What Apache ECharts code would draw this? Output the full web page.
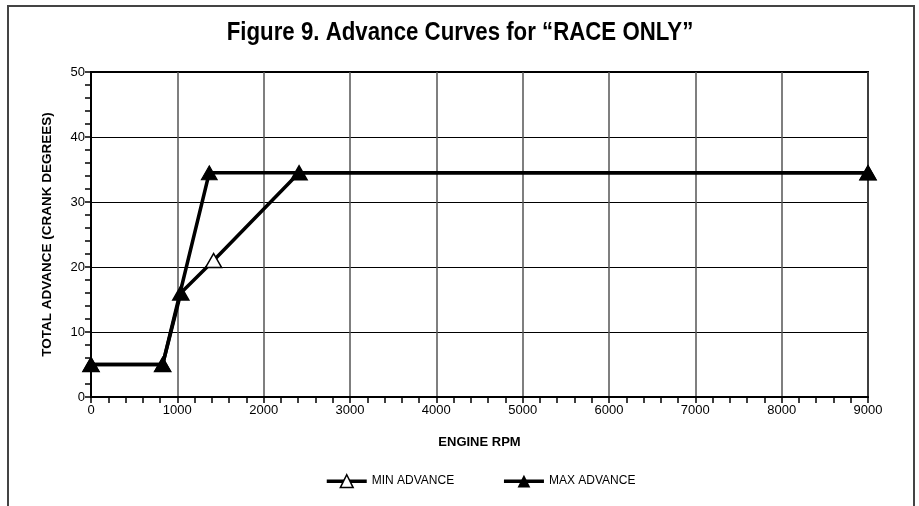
<!DOCTYPE html>
<html>
<head>
<meta charset="utf-8">
<script src="https://cdn.jsdelivr.net/npm/echarts@6/dist/echarts.min.js"></script>
<style>
  html, body { margin: 0; padding: 0; background: #fff; }
  #main { width: 919px; height: 506px; }
</style>
</head>
<body>
<div id="main"></div>
<script>
// engine rpm / total advance
const minRpm = [0, 830, 1040, 1420, 2410, 9000]
const minAdv = [5, 5, 16, 21, 34.5, 34.5]
const minOpen = [false, false, false, true, false, false] // only the 1420 point is drawn hollow
const maxRpm = [0, 830, 1370, 9000]
const maxAdv = [5, 5, 34.5, 34.5]

const xTicks = [0, 1000, 2000, 3000, 4000, 5000, 6000, 7000, 8000, 9000]
const yTicks = [0, 10, 20, 30, 40, 50]

const titleText = 'Figure 9. Advance Curves for “RACE ONLY”'
const font = 'Liberation Sans, Arial, sans-serif'

const minData = minRpm.map(function(x, i) {
  return {
    value: [x, minAdv[i]],
    itemStyle: { color: minOpen[i] ? '#fff' : '#000', borderColor: '#000', borderWidth: 1.5 }
  }
})
const maxData = maxRpm.map(function(x, i) { return [x, maxAdv[i]] })

const chart = echarts.init(document.getElementById('main'))
chart.setOption({
  animation: false,
  backgroundColor: '#fff',
  graphic: [
    {
      // frame round the figure, open at the bottom
      type: 'polyline',
      shape: { points: [[8, 506], [8, 6], [914, 6], [914, 506]] },
      style: { stroke: '#444', lineWidth: 2, fill: null }
    },
    {
      // title, squeezed a bit like the narrow face of the original
      type: 'text',
      x: 460,
      y: 33,
      scaleX: 0.89,
      style: {
        text: titleText,
        font: 'bold 25px ' + font,
        fill: '#000',
        textAlign: 'center',
        textVerticalAlign: 'middle'
      }
    }
  ],
  legend: {
    left: 320,
    top: 469,
    itemWidth: 40,
    itemHeight: 16,
    itemGap: 48,
    textStyle: { fontFamily: font, fontSize: 12, color: '#000' },
    lineStyle: { width: 3.5, color: '#000' },
    data: [
      { name: 'MIN ADVANCE', itemStyle: { color: '#fff', borderColor: '#000', borderWidth: 1.5 } },
      { name: 'MAX ADVANCE' }
    ]
  },
  grid: {
    left: 91, right: 51, top: 72, bottom: 109,
    show: true, borderColor: '#000', borderWidth: 2
  },
  xAxis: {
    type: 'value',
    min: 0, max: 9000, interval: 1000,
    name: 'ENGINE RPM',
    nameLocation: 'middle',
    nameGap: 39,
    nameTextStyle: { fontFamily: font, fontSize: 13, fontWeight: 'bold', color: '#000' },
    axisLine: { lineStyle: { color: '#000', width: 2 } },
    axisTick: { inside: false, length: 6, lineStyle: { color: '#000', width: 1.5 } },
    minorTick: { show: true, splitNumber: 5, length: 6, lineStyle: { color: '#000', width: 1.5 } },
    axisLabel: {
      fontFamily: font, fontSize: 13, color: '#000', margin: 7,
      formatter: function(v) { return xTicks.indexOf(v) >= 0 ? String(v) : '' }
    },
    splitLine: { show: true, lineStyle: { color: '#555', width: 1.5 } }
  },
  yAxis: {
    type: 'value',
    min: 0, max: 50, interval: 10,
    name: 'TOTAL ADVANCE (CRANK DEGREES)',
    nameLocation: 'middle',
    nameGap: 37,
    nameTextStyle: { fontFamily: font, fontSize: 13.5, fontWeight: 'bold', color: '#000' },
    axisLine: { show: true, lineStyle: { color: '#000', width: 2 } },
    axisTick: { show: true, inside: false, length: 6, lineStyle: { color: '#000', width: 1.5 } },
    minorTick: { show: true, splitNumber: 5, length: 6, lineStyle: { color: '#000', width: 1.5 } },
    axisLabel: {
      fontFamily: font, fontSize: 13, color: '#000', margin: 6,
      formatter: function(v) { return yTicks.indexOf(v) >= 0 ? String(v) : '' }
    },
    splitLine: { show: true, lineStyle: { color: '#000', width: 1.2 } }
  },
  series: [
    {
      name: 'MIN ADVANCE',
      type: 'line',
      data: minData,
      symbol: 'triangle',
      symbolSize: [16, 14],
      showAllSymbol: true,
      z: 3,
      lineStyle: { color: '#000', width: 3.5 },
      itemStyle: { color: '#000', borderColor: '#000' }
    },
    {
      name: 'MAX ADVANCE',
      type: 'line',
      data: maxData,
      symbol: 'triangle',
      symbolSize: [16, 14],
      showAllSymbol: true,
      z: 4,
      lineStyle: { color: '#000', width: 3.5 },
      itemStyle: { color: '#000', borderColor: '#000' }
    }
  ]
})
</script>
</body>
</html>
